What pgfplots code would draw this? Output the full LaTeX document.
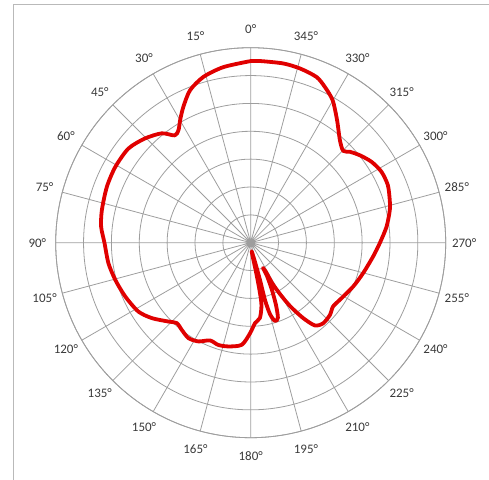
\documentclass[border=0pt]{standalone}
\usepackage{pgfplots}
\pgfplotsset{compat=1.18}
\usepgfplotslibrary{polar}
\usepackage{fontspec}
\setmainfont{Carlito}
\definecolor{gridgray}{HTML}{9E9E9E}
\definecolor{labgray}{HTML}{3A3A3A}
\definecolor{curvered}{HTML}{E00000}
\pgfplotstableread{
phi r
90 6.52
98.8 6.38
105.9 6.19
111.7 5.89
116.4 5.44
119.9 5.08
122.7 4.80
125.3 4.72
129.1 5.06
135.4 5.33
142.4 5.54
150.7 5.57
158.7 5.54
167.6 5.47
173.9 5.40
180 5.25
188.2 5.16
195.4 5.04
203.2 4.90
211.5 4.73
217.4 4.46
223.8 4.09
227.4 3.92
231.7 3.99
236.9 4.09
242.1 4.01
247.4 3.80
252.4 3.85
257.8 3.81
265 3.68
269.6 3.25
273.1 2.89
277.0 2.72
279.8 2.27
280.5 1.72
280.3 1.07
278.5 0.55
276.6 0.31
282.6 0.71
284.0 1.38
284.0 2.12
285.1 2.65
287.2 2.94
289.9 2.87
292.1 2.41
294.2 1.86
296.1 1.33
295.9 1.01
297.6 1.19
297.9 1.63
299.7 2.12
301.8 2.67
304.8 3.29
307.8 3.76
312.0 3.89
317.6 3.85
322.2 3.74
327.3 3.80
336.8 4.00
344.8 4.18
353.5 4.42
359.7 4.63
6.7 4.91
13.2 5.13
17 5.22
22.8 5.34
28.5 5.34
33.8 5.22
38.7 5.02
42.5 4.83
44.8 4.68
49 4.88
54.8 5.38
60.1 5.90
64.5 6.19
68.3 6.40
74.2 6.50
79.7 6.54
87 6.53
90 6.52
}\pattern
\begin{document}
\begin{tikzpicture}
\useasboundingbox (0,0) rectangle (489bp,480bp);
\clip (0,0) rectangle (489bp,480bp);
\draw[gray!55, line width=0.8bp] (13.3bp,-5bp) -- (13.3bp,475.7bp) -- (495bp,475.7bp);
\begin{polaraxis}[
  at={(250.7bp,237.3bp)}, anchor=origin,
  scale only axis, width=390bp, height=390bp,
  xmin=0, xmax=360, ymin=0, ymax=7,
  xtick={0,15,...,345}, ytick={1,2,...,7},
  xticklabels={}, yticklabels={},
  major tick length=0pt,
  grid=major,
  major grid style={gridgray, line width=0.8bp},
  axis line style={gridgray, line width=0.8bp},
  y axis line style={draw=none},
  clip=false,
]
\addplot[curvered, line width=3.8bp, smooth, tension=0.45, line join=round] table[x=phi, y=r] {\pattern};
\pgfplotsinvokeforeach{0,15,...,345}{
  \node[font=\fontsize{13bp}{15bp}\selectfont, text=labgray, anchor=center, inner sep=0pt] at (axis cs:#1+90,7.66) {#1°};
}
\end{polaraxis}
\end{tikzpicture}
\end{document}
